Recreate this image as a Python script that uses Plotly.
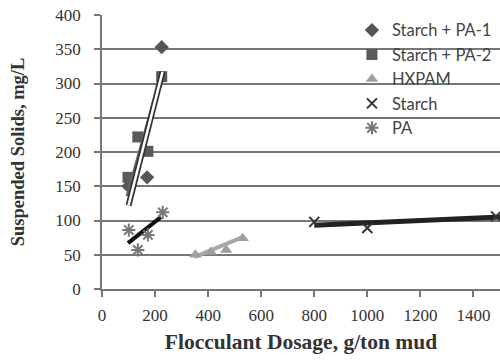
import plotly.graph_objects as go

# ---- data ----
pa1_x = [100, 170, 225]
pa1_y = [150, 163, 353]
pa2_x = [98, 135, 173, 225]
pa2_y = [163, 222, 201, 310]
hx_x = [352, 410, 468, 530]
hx_y = [50, 54, 57, 74]
st_x = [800, 1000, 1485]
st_y = [98, 89, 106]
pa_x = [101, 135, 173, 229]
pa_y = [86, 57, 79, 112]

# trend lines (end points)
pa1_tr_x = [100, 228]
pa1_tr_y = [122, 317]
pa2_tr_x = [98, 226]
pa2_tr_y = [135, 312]
hx_tr_x = [350, 532]
hx_tr_y = [47, 76]
st_tr_x = [800, 1500]
st_tr_y = [93, 105]
pa_tr_x = [98, 222]
pa_tr_y = [67, 105]

x_ticks = [0, 200, 400, 600, 800, 1000, 1200, 1400]
y_ticks = [0, 50, 100, 150, 200, 250, 300, 350, 400]

serif = "Liberation Serif, Times New Roman, serif"
sans = "Lato, Open Sans, sans-serif"

fig = go.Figure()

# trend lines (no legend)
fig.add_trace(go.Scatter(x=hx_tr_x, y=hx_tr_y, mode="lines",
                         line=dict(color="#a8a8a8", width=4), showlegend=False, hoverinfo="skip"))
fig.add_trace(go.Scatter(x=st_tr_x, y=st_tr_y, mode="lines",
                         line=dict(color="#222222", width=5), showlegend=False, hoverinfo="skip"))
fig.add_trace(go.Scatter(x=pa_tr_x, y=pa_tr_y, mode="lines",
                         line=dict(color="#111111", width=4), showlegend=False, hoverinfo="skip"))

# markers
fig.add_trace(go.Scatter(x=pa1_x, y=pa1_y, mode="markers", name="Starch + PA-1",
                         marker=dict(symbol="diamond", size=11, color="#555555")))
fig.add_trace(go.Scatter(x=pa2_x, y=pa2_y, mode="markers", name="Starch + PA-2",
                         marker=dict(symbol="square", size=11, color="#5a5a5a")))
fig.add_trace(go.Scatter(x=hx_x, y=hx_y, mode="markers", name="HXPAM",
                         marker=dict(symbol="triangle-up", size=11, color="#a0a0a0")))
fig.add_trace(go.Scatter(x=st_x, y=st_y, mode="markers", name="Starch",
                         marker=dict(symbol="x-thin-open", size=10, color="#333333",
                                     line=dict(width=2, color="#333333"))))
fig.add_trace(go.Scatter(x=pa_x, y=pa_y, mode="markers", name="PA",
                         marker=dict(symbol="asterisk-open", size=11, color="#777777",
                                     line=dict(width=2, color="#777777"))))

# PA-2 trend (gray) and PA-1 trend (white with dark outline) on top
fig.add_trace(go.Scatter(x=pa2_tr_x, y=pa2_tr_y, mode="lines",
                         line=dict(color="#666666", width=5), showlegend=False, hoverinfo="skip"))
fig.add_trace(go.Scatter(x=pa1_tr_x, y=pa1_tr_y, mode="lines",
                         line=dict(color="#333333", width=6), showlegend=False, hoverinfo="skip"))
fig.add_trace(go.Scatter(x=pa1_tr_x, y=pa1_tr_y, mode="lines",
                         line=dict(color="#ffffff", width=2.5), showlegend=False, hoverinfo="skip"))

fig.update_layout(
    width=500, height=362,
    margin=dict(l=102, r=0, t=15, b=73),
    paper_bgcolor="white", plot_bgcolor="white",
    showlegend=True,
    legend=dict(x=0.628, y=1.008, xanchor="left", yanchor="top",
                bgcolor="rgba(0,0,0,0)", font=dict(family=sans, size=16.5, color="#444444"),
                itemwidth=30, tracegroupgap=0),
    xaxis=dict(range=[0, 1500], tickvals=x_ticks, ticktext=[str(v) for v in x_ticks],
               showgrid=False, zeroline=False, showline=True, linecolor="#777777", linewidth=1.6,
               ticks="outside", ticklen=6, tickwidth=1.5, tickcolor="#777777",
               tickfont=dict(family=serif, size=17, color="#333333"),
               ticklabelstandoff=4,
               title=dict(text="<b>Flocculant Dosage, g/ton mud</b>",
                          font=dict(family=serif, size=21.5, color="#333333"), standoff=10)),
    yaxis=dict(range=[0, 400], tickvals=y_ticks, ticktext=[str(v) for v in y_ticks],
               showgrid=True, gridcolor="#777777", gridwidth=1.6,
               zeroline=False, showline=True, linecolor="#777777", linewidth=1.5,
               ticks="outside", ticklen=6, tickwidth=1.5, tickcolor="#777777",
               tickfont=dict(family=serif, size=17, color="#333333"),
               ticklabelstandoff=10,
               title=dict(text="<b>Suspended Solids, mg/L</b>",
                          font=dict(family=serif, size=18.5, color="#333333"), standoff=26)),
)

fig.write_html("out.html")
